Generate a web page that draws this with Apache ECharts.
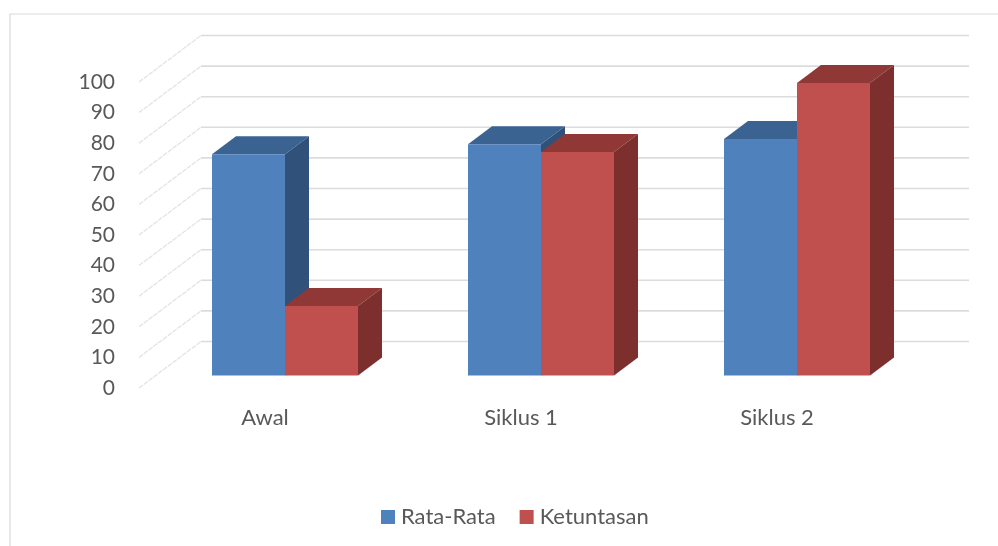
<!DOCTYPE html>
<html>
<head>
<meta charset="utf-8">
<title>Rata-Rata dan Ketuntasan</title>
<script src="https://cdn.jsdelivr.net/npm/echarts@6/dist/echarts.min.js"></script>
<style>
	html, body { margin: 0; padding: 0; background: #fff; }
	#chart { width: 998px; height: 546px; }
</style>
</head>
<body>
<div id="chart"></div>
<script>
	var categories = ['Awal', 'Siklus 1', 'Siklus 2'];
	var rataRata = [72.3, 75.6, 77.3];
	var ketuntasan = [22.7, 73, 95.6];
	var yTicks = [0, 10, 20, 30, 40, 50, 60, 70, 80, 90, 100];

	var font = 'Lato, "Open Sans", sans-serif';

	// floor depth of the fake 3d box, in px
	var wallDx = 62, wallDy = 46.5;
	// where the bars stand inside that depth
	var barDx = 18, barDy = 12.5, sideDx = 24, sideDy = 18;
	var barWidthRatio = 73 / 256;

	function barSeries(name, values, slot, front, top, side) {
		return {
			name: name,
			type: 'custom',
			silent: true,
			clip: false,
			itemStyle: { color: front },
			data: values.map(function(v, i) { return [i, v]; }),
			renderItem: function(params, api) {
				var base = api.coord([api.value(0), 0]);
				var head = api.coord([api.value(0), api.value(1)]);
				var w = api.size([1, 0])[0] * barWidthRatio;
				var x0 = base[0] + barDx + slot * w;
				var x1 = x0 + w;
				var y0 = base[1] - barDy;
				var y1 = head[1] - barDy;
				return {
					type: 'group',
					children: [
						{ type: 'polygon', shape: { points: [[x0, y1], [x1, y1], [x1 + sideDx, y1 - sideDy], [x0 + sideDx, y1 - sideDy]] }, style: { fill: top } },
						{ type: 'polygon', shape: { points: [[x1, y0], [x1, y1], [x1 + sideDx, y1 - sideDy], [x1 + sideDx, y0 - sideDy]] }, style: { fill: side } },
						{ type: 'rect', shape: { x: x0, y: y1, width: w, height: y0 - y1 }, style: { fill: front } }
					]
				};
			}
		};
	}

	var chart = echarts.init(document.getElementById('chart'));
	chart.setOption({
		animation: false,
		backgroundColor: '#fff',
		grid: { left: 139, right: 91, top: 82, bottom: 158 },
		legend: {
			data: ['Rata-Rata', 'Ketuntasan'],
			left: 381,
			top: 506,
			padding: 0,
			icon: 'rect',
			itemWidth: 14,
			itemHeight: 14,
			itemGap: 24,
			selectedMode: false,
			textStyle: { fontFamily: font, fontSize: 22, color: '#595959', padding: [0, 0, 0, 1] }
		},
		xAxis: {
			type: 'category',
			data: categories,
			axisLine: { show: false },
			axisTick: { show: false },
			axisLabel: { margin: 19, padding: [0, 4, 0, 0], fontFamily: font, fontSize: 22, color: '#595959' }
		},
		yAxis: {
			type: 'value',
			min: 0,
			max: 100,
			interval: 10,
			axisLine: { show: false },
			axisTick: { show: false },
			splitLine: { show: false },
			axisLabel: { margin: 24, fontFamily: font, fontSize: 21, color: '#595959' }
		},
		graphic: [
			{ type: 'polyline', silent: true, shape: { points: [[10, 546], [10, 14], [998, 14]] }, style: { fill: null, stroke: '#d9d9d9', lineWidth: 1.2 } }
		],
		series: [
			{
				type: 'custom',
				silent: true,
				clip: false,
				data: yTicks.map(function(t) { return [0, t]; }),
				renderItem: function(params, api) {
					var y = api.coord([0, api.value(1)])[1];
					var cs = params.coordSys;
					return {
						type: 'group',
						children: [
							{ type: 'line', shape: { x1: cs.x, y1: y, x2: cs.x + wallDx, y2: y - wallDy }, style: { stroke: '#e3e3e3', lineWidth: 1.3, lineDash: [5, 1] } },
							{ type: 'line', shape: { x1: cs.x + wallDx, y1: y - wallDy, x2: cs.x + cs.width + wallDx, y2: y - wallDy }, style: { stroke: '#dcdcdc', lineWidth: 1.6 } }
						]
					};
				}
			},
			barSeries('Rata-Rata', rataRata, -1, '#4f81bd', '#3b6391', '#30527a'),
			barSeries('Ketuntasan', ketuntasan, 0, '#c0504d', '#903836', '#7d2f2d')
		]
	});
</script>
</body>
</html>
